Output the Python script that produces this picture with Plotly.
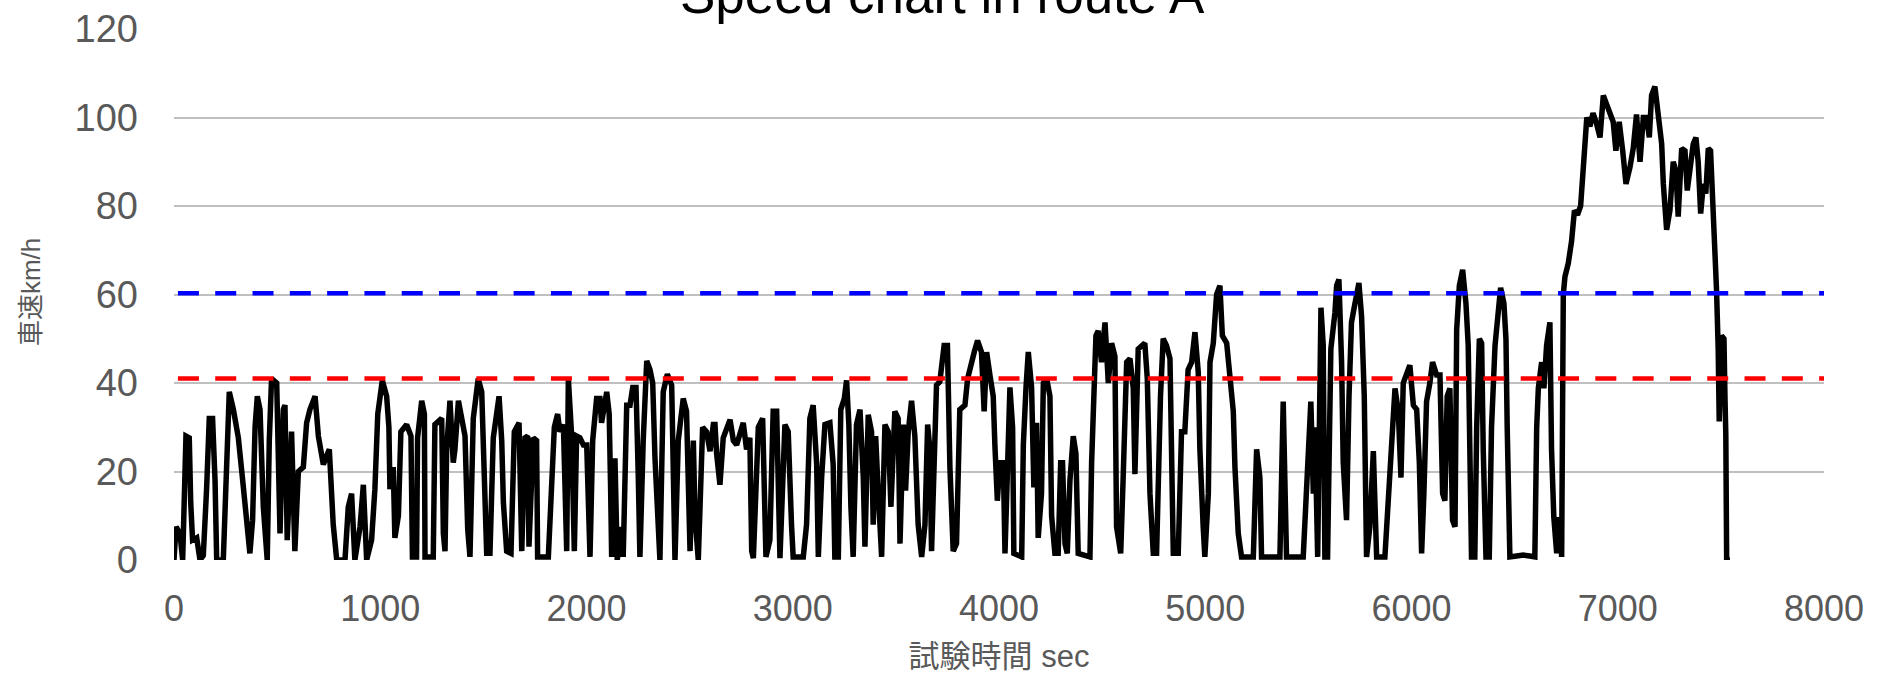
import plotly.graph_objects as go

# Vehicle speed log for route A: elapsed test time (s) and speed (km/h)
time_s = [
    0, 10, 29, 42, 58, 74, 81, 90, 110, 126, 142, 150, 158, 171, 187, 199, 207, 239, 247, 255,
    268, 288, 312, 333, 352, 368, 381, 393, 404, 417, 433, 452, 462, 473, 498, 514, 530, 538, 549, 570,
    586, 603, 627, 643, 659, 684, 700, 724, 753, 772, 789, 829, 845, 861, 877, 902, 918, 934, 958, 974,
    988, 1010, 1031, 1042, 1047, 1063, 1071, 1088, 1100, 1128, 1149, 1156, 1176, 1181, 1201, 1214, 1217, 1257, 1265, 1298,
    1306, 1314, 1322, 1338, 1354, 1362, 1379, 1398, 1411, 1424, 1435, 1451, 1475, 1492, 1500, 1516, 1532, 1548, 1576, 1589,
    1597, 1613, 1634, 1650, 1673, 1686, 1702, 1715, 1721, 1742, 1758, 1763, 1815, 1831, 1844, 1860, 1871, 1888, 1904, 1912,
    1928, 1941, 1952, 1968, 1985, 2001, 2017, 2030, 2049, 2065, 2073, 2098, 2110, 2117, 2122, 2138, 2149, 2170, 2178, 2195,
    2211, 2224, 2240, 2251, 2259, 2275, 2292, 2308, 2321, 2332, 2356, 2372, 2392, 2413, 2429, 2445, 2469, 2485, 2502, 2518,
    2526, 2542, 2563, 2582, 2599, 2615, 2623, 2631, 2647, 2663, 2696, 2712, 2728, 2760, 2776, 2792, 2801, 2809, 2833, 2854,
    2870, 2889, 2905, 2922, 2938, 2962, 2978, 2994, 3002, 3051, 3067, 3083, 3099, 3116, 3124, 3140, 3156, 3180, 3196, 3204,
    3221, 3233, 3250, 3261, 3272, 3282, 3293, 3309, 3326, 3342, 3350, 3366, 3382, 3390, 3402, 3414, 3431, 3447, 3463, 3476,
    3495, 3511, 3520, 3536, 3547, 3560, 3576, 3592, 3608, 3625, 3641, 3654, 3665, 3673, 3689, 3697, 3713, 3734, 3750, 3762,
    3778, 3794, 3810, 3835, 3848, 3864, 3880, 3896, 3915, 3928, 3940, 3956, 3972, 3980, 3992, 4004, 4021, 4029, 4040, 4053,
    4066, 4072, 4110, 4118, 4131, 4142, 4158, 4169, 4182, 4190, 4206, 4215, 4231, 4247, 4255, 4271, 4287, 4299, 4308, 4320,
    4331, 4344, 4360, 4373, 4384, 4441, 4449, 4470, 4481, 4497, 4514, 4530, 4546, 4562, 4570, 4590, 4602, 4619, 4635, 4651,
    4659, 4675, 4707, 4719, 4732, 4748, 4764, 4772, 4783, 4796, 4812, 4829, 4837, 4845, 4869, 4885, 4901, 4917, 4934, 4950,
    4966, 4974, 4990, 4998, 5015, 5023, 5039, 5055, 5071, 5083, 5104, 5120, 5136, 5144, 5160, 5176, 5233, 5249, 5265, 5273,
    5362, 5378, 5394, 5475, 5491, 5512, 5524, 5532, 5545, 5561, 5572, 5580, 5593, 5609, 5629, 5637, 5648, 5661, 5669, 5685,
    5697, 5709, 5726, 5745, 5758, 5771, 5782, 5798, 5815, 5831, 5871, 5887, 5903, 5920, 5936, 5949, 5960, 5976, 5992, 6009,
    6025, 6038, 6049, 6060, 6073, 6089, 6102, 6122, 6138, 6151, 6162, 6173, 6186, 6199, 6211, 6219, 6232, 6248, 6264, 6275,
    6283, 6291, 6307, 6316, 6329, 6340, 6348, 6361, 6377, 6388, 6405, 6421, 6432, 6448, 6458, 6464, 6477, 6510, 6542, 6574,
    6598, 6607, 6615, 6631, 6642, 6655, 6671, 6679, 6690, 6704, 6716, 6728, 6736, 6744, 6760, 6776, 6790, 6805, 6820, 6835,
    6850, 6865, 6880, 6895, 6914, 6930, 6946, 6962, 6978, 6991, 7007, 7024, 7040, 7059, 7075, 7091, 7108, 7124, 7140, 7153,
    7164, 7180, 7196, 7213, 7221, 7229, 7237, 7253, 7269, 7282, 7293, 7310, 7326, 7337, 7353, 7366, 7379, 7390, 7402, 7415,
    7427, 7439, 7450, 7463, 7471, 7479, 7487, 7492, 7503, 7515, 7520, 7524, 7528, 7544,
]
speed_kmh = [
    0, 7.5, 6, 0, 28, 27.6, 13, 4.5, 5, 0, 1, 7, 16, 32, 32, 18, 0, 0, 10, 28,
    38, 34, 27.6, 18, 10, 1.5, 9, 30, 37, 34, 12, 0, 27, 41, 40, 6, 34, 35, 4.5, 29,
    2, 20, 21, 31, 34, 37, 28, 21.6, 25, 8, 0, 0, 12, 15, 0, 7.5, 17, 0, 4.5, 16,
    33, 40.6, 37, 30, 16, 21, 5, 10, 29, 30.6, 28, 0.7, 0.7, 27.6, 36, 33, 0.7, 0.7, 30.6, 32,
    6, 2, 25, 36, 22, 25, 36, 32, 28, 7, 0.7, 32, 41, 38, 27.6, 1.5, 1.5, 27.6, 37, 27,
    13, 2, 1.5, 29, 31, 2, 27.6, 28, 3, 27.6, 27, 0.7, 0.7, 19, 30, 33, 29, 30.6, 2, 41,
    28, 2, 28, 27.6, 26, 26, 0.7, 27, 36.5, 36.5, 31, 38, 33, 16, 0.7, 23, 0, 7.5, 0.7, 35,
    35, 39, 39, 19, 0.7, 27, 45, 43, 40, 23, 0, 38, 42, 39.5, 0, 27, 36.5, 33.6, 2, 27,
    10, 0, 30, 29, 24.6, 30.6, 30.6, 24, 17, 27.6, 31.7, 27, 26, 31, 25, 27.6, 2, 0.4, 30, 32,
    0.7, 4.5, 33.6, 33.6, 0.4, 30.6, 29, 8, 0.7, 0.7, 8, 32, 35, 21.6, 0.7, 18.6, 30.6, 31, 21.6, 0.7,
    0.7, 34, 36.5, 40.6, 30.6, 12, 0.7, 30.6, 34, 18.6, 3, 32.8, 29, 8, 28, 15.7, 0.7, 30.6, 29, 12,
    33.6, 32, 3.7, 30.6, 15.7, 29, 36, 28, 8, 0.7, 8, 30.6, 25, 2, 21.6, 39.5, 40.3, 48.5, 48.5, 21,
    2, 3.7, 34, 35, 41, 44.7, 47, 49.6, 47, 33.6, 47, 41.8, 37, 26, 13.4, 22, 22, 1.5, 15, 39,
    30, 1.5, 0.7, 26, 39, 47, 39, 16.4, 31, 5, 15, 40, 41, 37, 10, 1.5, 1.5, 22, 22, 3.7,
    1.5, 18, 28, 24, 1.5, 0.7, 22, 50.7, 51.8, 44.7, 53.7, 40, 49, 46, 7.5, 1.5, 18.6, 44.7, 45.5, 38.8,
    19.4, 47.7, 49, 41, 15, 1.5, 1.5, 22, 37, 50, 48.5, 45.5, 22, 1.5, 1.5, 29, 29, 43, 44.7, 51.5,
    42.5, 25, 7.5, 0.7, 15, 44.7, 49, 60, 62, 50.7, 49, 42.5, 33.6, 21, 6, 0.7, 0.7, 25, 18.6, 0.7,
    0.7, 35.8, 0.7, 0.7, 18, 35.8, 15, 30, 0.7, 57, 48.5, 0.7, 0.7, 47.7, 56, 62, 63.4, 44.7, 22, 9,
    37, 53.7, 58, 62.6, 55, 37, 0.7, 7.5, 24.6, 0.7, 0.7, 15, 26, 38.8, 33.6, 18.6, 40, 41.8, 44, 35,
    34, 22, 1.5, 15, 35.8, 40, 44.7, 41.8, 41.8, 15, 13.4, 37, 38.8, 9, 7.5, 52, 62, 65.6, 58, 48.5,
    16.4, 0.7, 0.7, 30, 50, 49, 24.6, 0.7, 0.7, 30, 48.5, 57, 61.5, 58, 50, 30, 0.7, 0.9, 1.1, 0.9,
    0.7, 30, 38.8, 44.7, 38.8, 48.5, 53.7, 25, 9.7, 1.5, 9.7, 0.7, 60, 64, 67, 72, 79, 78, 80, 90,
    100, 98, 101, 99, 95.5, 105, 103, 101.4, 99, 92.5, 99, 92.5, 85, 88.7, 93, 100.7, 90, 100, 100, 95.5,
    105, 107, 100, 94, 85, 79, 74.6, 79, 90, 88, 77.6, 93, 92.5, 83.5, 88.7, 94, 95.5, 90, 78.3, 85,
    82.8, 93, 92.5, 79.8, 71.6, 61, 47.7, 31.3, 50.7, 50, 36.5, 28.3, 0, 0,
]

# Reference speed levels
limit_low_kmh = 41
limit_high_kmh = 60.3

# Axis ticks
x_ticks = [0, 1000, 2000, 3000, 4000, 5000, 6000, 7000, 8000]
y_ticks = [0, 20, 40, 60, 80, 100, 120]

FONT = "Liberation Sans, Arial, Noto Sans CJK JP, sans-serif"
GRAY_TEXT = "#595959"

fig = go.Figure()

fig.add_trace(go.Scatter(
    x=time_s, y=speed_kmh, mode="lines",
    line=dict(color="black", width=5.5),
    showlegend=False, hoverinfo="skip",
))

# Dashed reference lines at the two speed levels
for level, color in [(limit_low_kmh, "#ff0000"), (limit_high_kmh, "#0000ff")]:
    fig.add_shape(
        type="line", xref="x", yref="y",
        x0=19, x1=8000, y0=level, y1=level,
        line=dict(color=color, width=4.5, dash="21px,16.3px"),
        layer="above",
    )

# Chart title (sits partly above the top edge of the canvas)
fig.add_annotation(
    text="Speed chart in route A",
    xref="paper", yref="paper", x=0.4655, y=1.065,
    xanchor="center", yanchor="middle", showarrow=False,
    font=dict(family=FONT, size=53, color="#000000"),
)

# Vertical axis title
fig.add_annotation(
    text="車速km/h",
    xref="paper", yref="paper", x=-0.0865, y=0.505,
    xanchor="center", yanchor="middle", textangle=-90, showarrow=False,
    font=dict(family=FONT, size=26, color=GRAY_TEXT),
)

fig.update_layout(
    width=1885, height=674,
    margin=dict(l=174, r=61, t=28.5, b=114, autoexpand=False),
    paper_bgcolor="white", plot_bgcolor="white",
    font=dict(family=FONT, color=GRAY_TEXT),
)

fig.update_xaxes(
    range=[0, 8000], tickvals=x_ticks, ticktext=[str(v) for v in x_ticks],
    showgrid=False, zeroline=False, showline=False, ticks="",
    tickfont=dict(size=36, color=GRAY_TEXT), ticklabelstandoff=24,
    title=dict(text="試験時間 sec", font=dict(size=31, color=GRAY_TEXT), standoff=26),
    automargin=False,
)
fig.update_yaxes(
    range=[0, 120], tickvals=y_ticks, ticktext=[str(v) for v in y_ticks],
    showgrid=True, gridcolor="#c0c0c0", gridwidth=2,
    zeroline=False, showline=False, ticks="",
    tickfont=dict(size=38, color=GRAY_TEXT), ticklabelstandoff=35,
    automargin=False,
)

fig.write_html("out.html")
